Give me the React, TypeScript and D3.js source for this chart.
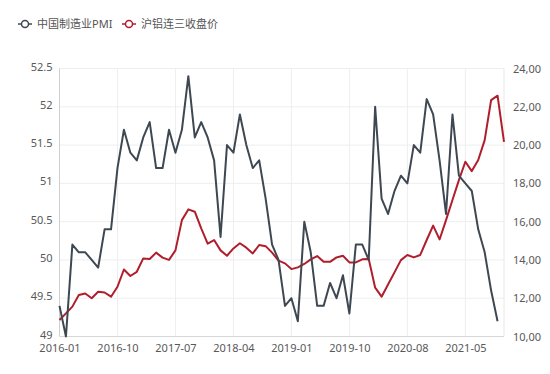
import { useRef, useEffect } from "react";
import * as d3 from "d3";

// monthly categories, 2020-02 is absent in the source
const months = [
  "2016-01","2016-02","2016-03","2016-04","2016-05","2016-06","2016-07","2016-08","2016-09","2016-10","2016-11","2016-12",
  "2017-01","2017-02","2017-03","2017-04","2017-05","2017-06","2017-07","2017-08","2017-09","2017-10","2017-11","2017-12",
  "2018-01","2018-02","2018-03","2018-04","2018-05","2018-06","2018-07","2018-08","2018-09","2018-10","2018-11","2018-12",
  "2019-01","2019-02","2019-03","2019-04","2019-05","2019-06","2019-07","2019-08","2019-09","2019-10","2019-11","2019-12",
  "2020-01","2020-03","2020-04","2020-05","2020-06","2020-07","2020-08","2020-09","2020-10","2020-11","2020-12",
  "2021-01","2021-02","2021-03","2021-04","2021-05","2021-06","2021-07","2021-08","2021-09","2021-10","2021-11",
];

const pmi: (number | null)[] = [
  49.4, 49.0, 50.2, 50.1, 50.1, 50.0, 49.9, 50.4, 50.4, 51.2, 51.7, 51.4,
  51.3, 51.6, 51.8, 51.2, 51.2, 51.7, 51.4, 51.7, 52.4, 51.6, 51.8, 51.6,
  51.3, 50.3, 51.5, 51.4, 51.9, 51.5, 51.2, 51.3, 50.8, 50.2, 50.0, 49.4,
  49.5, 49.2, 50.5, 50.1, 49.4, 49.4, 49.7, 49.5, 49.8, 49.3, 50.2, 50.2,
  50.0, 52.0, 50.8, 50.6, 50.9, 51.1, 51.0, 51.5, 51.4, 52.1, 51.9,
  51.3, 50.6, 51.9, 51.1, 51.0, 50.9, 50.4, 50.1, 49.6, 49.2, null,
];

const alu = [
  10.86, 11.21, 11.56, 12.17, 12.25, 12.0, 12.34, 12.3, 12.08, 12.6, 13.5, 13.16,
  13.38, 14.08, 14.05, 14.38, 14.12, 14.0, 14.5, 16.08, 16.64, 16.52, 15.65, 14.85,
  15.04, 14.5, 14.22, 14.6, 14.87, 14.64, 14.34, 14.78, 14.72, 14.38, 13.96, 13.82,
  13.52, 13.61, 13.79, 14.03, 14.2, 13.9, 13.9, 14.13, 14.22, 13.87, 13.87, 14.03,
  14.05, 12.55, 12.08, 12.72, 13.35, 13.99, 14.26, 14.13, 14.26, 15.04, 15.79,
  15.07, 16.08, 17.13, 18.17, 19.13, 18.64, 19.22, 20.26, 22.35, 22.58, 20.17,
];

const leftTicks = [49, 49.5, 50, 50.5, 51, 51.5, 52, 52.5];
const rightTicks = [10, 12, 14, 16, 18, 20, 22, 24];
const seriesNames = ["中国制造业PMI", "沪铝连三收盘价"];
const colors = ["#3e4852", "#b01e2c"];

const W = 550, H = 374;
const m = { left: 59.5, right: 504, top: 68.5, bottom: 336.5 };
const font = "'Noto Sans', 'Noto Sans CJK SC', sans-serif";

export default function App() {
  const ref = useRef<SVGSVGElement>(null);

  useEffect(() => {
    const svg = d3.select(ref.current);
    svg.selectAll("*").remove();

    const x = d3.scalePoint(months, [m.left, m.right]);
    const yL = d3.scaleLinear([49, 52.5], [m.bottom, m.top]);
    const yR = d3.scaleLinear([10, 24], [m.bottom, m.top]);
    const xTicks = months.filter((d, i) => i % 9 === 0);

    // grid
    const g = svg.append("g");
    g.selectAll(".hg").data(leftTicks).enter().append("line")
      .attr("x1", m.left).attr("x2", m.right)
      .attr("y1", d => yL(d)).attr("y2", d => yL(d))
      .attr("stroke", "#eeeeee");
    g.selectAll(".vg").data(xTicks.slice(1)).enter().append("line")
      .attr("x1", d => x(d)!).attr("x2", d => x(d)!)
      .attr("y1", m.top).attr("y2", m.bottom)
      .attr("stroke", "#eeeeee");
    g.append("line").attr("x1", m.right).attr("x2", m.right).attr("y1", m.top).attr("y2", m.bottom).attr("stroke", "#e8e8e8");
    g.append("line").attr("x1", m.left).attr("x2", m.left).attr("y1", m.top).attr("y2", m.bottom).attr("stroke", "#d0d0d0");
    g.append("line").attr("x1", m.left).attr("x2", m.right).attr("y1", m.bottom).attr("y2", m.bottom).attr("stroke", "#d8d8d8");

    // axes
    const ax = svg.append("g").attr("transform", "translate(0," + m.bottom + ")")
      .call(d3.axisBottom(x).tickValues(xTicks).tickSize(0).tickPadding(8));
    const al = svg.append("g").attr("transform", "translate(" + m.left + ",-2)")
      .call(d3.axisLeft(yL).tickValues(leftTicks).tickSize(0).tickPadding(7).tickFormat(d => String(d)));
    const ar = svg.append("g").attr("transform", "translate(" + m.right + ",0)")
      .call(d3.axisRight(yR).tickValues(rightTicks).tickSize(0).tickPadding(9)
        .tickFormat(d => d3.format(".2f")(d as number).replace(".", ",")));
    [ax, al, ar].forEach(a => {
      a.select(".domain").remove();
      a.selectAll("text").attr("fill", "#595959").style("font-size", "11px").style("font-family", font);
    });

    // lines
    const lp = d3.line<number | null>()
      .defined(d => d != null)
      .x((d, i) => x(months[i])!)
      .y(d => yL(d as number));
    const lr = d3.line<number>()
      .x((d, i) => x(months[i])!)
      .y(d => yR(d));
    svg.append("path").datum(alu).attr("d", lr).attr("fill", "none")
      .attr("stroke", colors[1]).attr("stroke-width", 2).attr("stroke-linejoin", "round");
    svg.append("path").datum(pmi).attr("d", lp).attr("fill", "none")
      .attr("stroke", colors[0]).attr("stroke-width", 2).attr("stroke-linejoin", "round");

    // legend
    const lg = svg.append("g");
    const lx = [18, 122];
    seriesNames.forEach((n, i) => {
      const it = lg.append("g").attr("transform", "translate(" + lx[i] + ",24)");
      it.append("line").attr("x1", 0).attr("x2", 14).attr("stroke", colors[i]).attr("stroke-width", 1.5);
      it.append("circle").attr("cx", 7).attr("r", 3.5).attr("fill", "#fff").attr("stroke", colors[i]).attr("stroke-width", 1.5);
      it.append("text").attr("x", 19).attr("dy", "0.35em").text(n)
        .attr("fill", "#555").style("font-size", "11px").style("font-family", font);
    });
  }, []);

  return (
    <div>
      <svg ref={ref} width={W} height={H} style={{ position: "absolute", left: 0, top: 0, background: "#fff" }} />
    </div>
  );
}
